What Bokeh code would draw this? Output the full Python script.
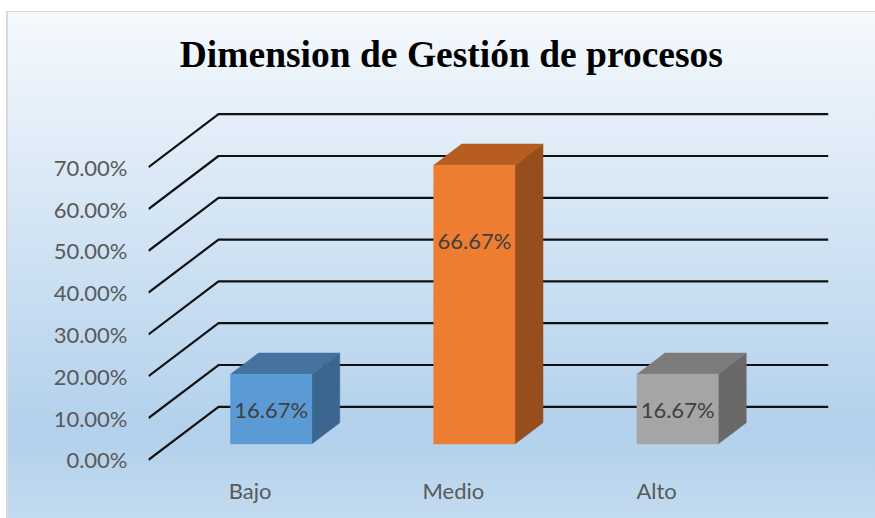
from bokeh.plotting import figure
from bokeh.models import Range1d, FixedTicker, NumeralTickFormatter, InlineStyleSheet
from bokeh.embed import file_html
from bokeh.resources import INLINE
from bokeh.core.properties import value

# ---------------- data ----------------
categories = ["Bajo", "Medio", "Alto"]
values = [0.1667, 0.6667, 0.1667]
y_ticks = [0.0, 0.1, 0.2, 0.3, 0.4, 0.5, 0.6, 0.7]
title_text = "Dimension de Gestión de procesos"

# ---------------- style ----------------
front_colors = ["#5b9bd5", "#ed7d31", "#a5a5a5"]
top_colors = ["#44739f", "#b75d22", "#7c7c7c"]
side_colors = ["#3b6690", "#974e1d", "#696969"]
label_rel = [0.5, 0.73, 0.5]   # where each data label sits along its bar

DX = 0.3445     # full depth shift along x (category units)
DY = 0.1268     # full depth shift along y (value units)
BAR_W = 0.4
D_FRONT, D_BACK = 0.3, 0.7
TXT_FONT = "Lato"
TXT_SIZE = "22px"
TITLE_POS = (0.99, 0.970)   # title anchor in plot units

n = len(categories)


def proj(x, y, d):
    return x + d * DX, y + d * DY


p = figure(width=875, height=518,
           x_range=Range1d(-0.5, 2.9), y_range=Range1d(-0.016, 1.0988),
           output_backend="svg", toolbar_location=None,
           min_border_left=148, min_border_right=36,
           min_border_top=0, min_border_bottom=52)

p.background_fill_color = None
p.border_fill_color = None
p.outline_line_color = None
p.grid.visible = False

css = """
:host {
  background:
    linear-gradient(#ffffff, #ffffff) 0 0 / 6px 100% no-repeat,
    linear-gradient(#d9d9d9, #d9d9d9) 6px 11px / 2px calc(100% - 11px) no-repeat,
    linear-gradient(#d9d9d9, #d9d9d9) 6px 11px / 100% 1px no-repeat,
    linear-gradient(to bottom, #ffffff 0px, #ffffff 11px, #f5f9fd 12px, #b3d1ec 428px, #b5d2ec 448px, #c3dbf0 518px);
}
"""
p.stylesheets = [InlineStyleSheet(css=css)]

# ---------------- 3D gridlines (side wall + back wall) ----------------
gxs, gys = [], []
for t in y_ticks:
    x0, y0 = proj(-0.5, t, 0)
    x1, y1 = proj(-0.5, t, 1)
    x2, y2 = proj(n - 0.5, t, 1)
    gxs.append([x0, x1, x2])
    gys.append([y0, y1, y2])
p.multi_line(gxs, gys, line_color="#111111", line_width=2.2)

# ---------------- 3D bars ----------------
fxs, fys, txs, tys, sxs, sys_ = [], [], [], [], [], []
for i, v in enumerate(values):
    xl, xr = i - BAR_W / 2, i + BAR_W / 2
    # front face
    a = proj(xl, 0, D_FRONT); b = proj(xr, 0, D_FRONT)
    c = proj(xr, v, D_FRONT); d = proj(xl, v, D_FRONT)
    fxs.append([a[0], b[0], c[0], d[0]]); fys.append([a[1], b[1], c[1], d[1]])
    # top face
    e = proj(xr, v, D_BACK); f = proj(xl, v, D_BACK)
    txs.append([d[0], c[0], e[0], f[0]]); tys.append([d[1], c[1], e[1], f[1]])
    # side face
    g = proj(xr, 0, D_BACK)
    sxs.append([b[0], c[0], e[0], g[0]]); sys_.append([b[1], c[1], e[1], g[1]])

p.patches(sxs, sys_, fill_color=side_colors, line_color=side_colors, line_width=0.5)
p.patches(txs, tys, fill_color=top_colors, line_color=top_colors, line_width=0.5)
p.patches(fxs, fys, fill_color=front_colors, line_color=front_colors, line_width=0.5)

# ---------------- data labels ----------------
lx = [proj(i, 0, D_FRONT)[0] for i in range(n)]
ly = [proj(0, v * r, D_FRONT)[1] for v, r in zip(values, label_rel)]
p.text(x=lx, y=ly, text=[f"{v * 100:.2f}%" for v in values],
       text_font=value(TXT_FONT), text_font_size=TXT_SIZE, text_color="#404040",
       text_align="center", text_baseline="middle")

# ---------------- title ----------------
p.text(x=[TITLE_POS[0]], y=[TITLE_POS[1]], text=[title_text],
       text_font=value("Liberation Serif"), text_font_size="37.5px",
       text_font_style="bold", text_color="#000000",
       text_align="center", text_baseline="alphabetic")

# ---------------- axes ----------------
p.xaxis.ticker = FixedTicker(ticks=list(range(n)))
p.xaxis.major_label_overrides = {i: c for i, c in enumerate(categories)}
p.yaxis.ticker = FixedTicker(ticks=y_ticks)
p.yaxis.formatter = NumeralTickFormatter(format="0.00%")
for ax in (p.xaxis, p.yaxis):
    ax.axis_line_color = None
    ax.major_tick_line_color = None
    ax.minor_tick_line_color = None
    ax.major_label_text_font = TXT_FONT
    ax.major_label_text_font_size = TXT_SIZE
    ax.major_label_text_color = "#595959"
p.xaxis.major_label_standoff = 4
p.yaxis.major_label_standoff = 15

open("out.html", "w").write(file_html(p, INLINE))
